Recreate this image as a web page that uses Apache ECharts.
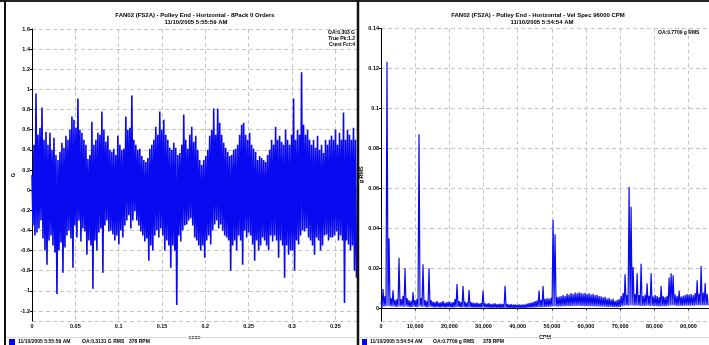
<!DOCTYPE html>
<html><head><meta charset="utf-8">
<script src="https://cdn.jsdelivr.net/npm/echarts@6/dist/echarts.min.js"></script>
<style>html,body{margin:0;padding:0;background:#fff}#c{width:709px;height:345px}</style>
</head><body><div id="c"></div>
<script>
// ---- Left panel: time waveform (per 2px column: upper and lower extreme, G) ----
const waveStep = 0.002304; // s per column
const waveHi = [
 0.15,0.45,0.96,0.55,0.62,0.82,0.5,0.58,0.45,0.57,
 0.4,0.52,0.35,0.3,0.38,0.47,0.42,0.54,0.5,0.6,
 0.73,0.7,0.62,0.91,0.6,0.57,0.5,0.45,0.31,0.35,
 0.68,0.45,0.5,0.57,0.55,0.78,0.6,0.48,0.54,0.4,
 0.38,0.41,0.35,0.54,0.45,0.4,0.41,0.73,0.6,0.62,
 0.94,0.5,0.45,0.4,0.41,0.34,0.3,0.28,0.32,0.41,
 0.45,0.5,0.63,0.55,0.78,0.6,0.7,0.55,0.5,0.42,
 0.4,0.47,0.42,0.35,0.37,0.45,0.75,0.5,0.41,0.55,
 0.63,0.48,0.54,0.4,0.3,0.25,0.3,0.34,0.4,0.54,
 0.6,0.81,0.55,0.81,0.67,0.55,0.47,0.42,0.38,0.34,
 0.35,0.4,0.41,0.45,0.55,0.65,0.67,0.55,0.5,0.57,
 0.45,0.41,0.38,0.3,0.34,0.32,0.3,0.28,0.35,0.4,
 0.5,0.45,0.63,0.5,0.54,0.48,0.45,0.6,0.5,0.45,
 0.55,0.91,0.5,0.6,0.55,1.17,0.65,0.55,0.6,0.5,
 0.45,0.5,0.42,0.54,0.4,0.45,0.37,0.5,0.45,0.5,
 0.54,0.5,0.6,0.45,0.57,0.5,0.77,0.5,0.6,0.55,0.5,0.62,0.5
];
const waveLo = [
 -0.35,-0.45,-0.42,-0.38,-0.3,-0.48,-0.6,-0.74,-0.5,-0.45,
 -0.55,-0.62,-1.03,-0.6,-0.52,-0.82,-0.57,-0.45,-0.4,-0.48,
 -0.77,-0.35,-0.47,-0.3,-0.51,-0.38,-0.41,-0.64,-0.5,-0.55,
 -0.98,-0.5,-0.6,-0.42,-0.38,-0.82,-0.35,-0.3,-0.41,-0.4,
 -0.44,-0.5,-0.45,-0.54,-0.4,-0.47,-0.35,-0.3,-0.25,-0.38,
 -0.3,-0.21,-0.3,-0.35,-0.41,-0.45,-0.51,-0.48,-0.7,-0.55,
 -0.6,-0.45,-0.4,-0.47,-0.38,-0.45,-0.6,-0.5,-0.55,-0.77,
 -0.55,-0.6,-1.14,-0.45,-0.51,-0.4,-0.35,-0.34,-0.3,-0.28,
 -0.35,-0.47,-0.5,-0.55,-0.6,-0.55,-0.67,-0.5,-0.45,-0.54,
 -0.4,-0.34,-0.3,-0.38,-0.34,-0.4,-0.45,-0.47,-0.5,-0.8,
 -0.55,-0.5,-0.6,-0.45,-0.5,-0.74,-0.4,-0.47,-0.42,-0.45,
 -0.54,-0.7,-0.5,-0.6,-0.55,-0.47,-0.5,-0.55,-0.6,-0.45,
 -0.51,-0.45,-0.5,-0.67,-0.5,-0.55,-0.87,-0.55,-0.64,-0.6,
 -0.6,-0.8,-0.5,-0.54,-0.45,-0.4,-0.41,-0.38,-0.47,-0.5,
 -0.55,-0.64,-0.47,-0.5,-0.6,-0.55,-0.45,-0.44,-0.5,-0.47,
 -0.47,-0.45,-0.41,-0.5,-0.45,-0.5,-1.12,-0.5,-0.54,-0.6,-0.55,-0.8,-0.87
];
// ---- Right panel: velocity spectrum (per 2px column: peak and floor, g RMS) ----
const specStep = 585.6; // CPM per column
const specHi = [
 0.003,0.0096,0.006,0.1234,0.035,0.005,0.0089,0.004,0.0045,0.0252,
 0.0045,0.006,0.020,0.005,0.004,0.0035,0.0079,0.004,0.0045,0.0871,
 0.005,0.022,0.004,0.0035,0.020,0.004,0.0032,0.003,0.0035,0.0028,
 0.003,0.0035,0.0028,0.003,0.0033,0.0029,0.003,0.0045,0.012,0.0035,
 0.003,0.011,0.0032,0.0028,0.009,0.003,0.0027,0.0025,0.0028,0.0024,
 0.0025,0.0088,0.0024,0.0022,0.0025,0.002,0.0022,0.0024,0.002,0.0021,
 0.0022,0.002,0.0112,0.0021,0.0018,0.002,0.0017,0.0019,0.0016,0.0018,
 0.0017,0.0019,0.0018,0.0022,0.0025,0.0028,0.003,0.0035,0.0038,0.0088,
 0.004,0.011,0.0045,0.005,0.0048,0.0052,0.0442,0.037,0.0055,0.0058,
 0.006,0.0066,0.0061,0.0072,0.0068,0.0075,0.007,0.0078,0.0074,0.0079,
 0.0076,0.0073,0.0077,0.0071,0.0074,0.0068,0.0072,0.0065,0.0067,0.0061,
 0.0059,0.0054,0.0056,0.0048,0.005,0.0043,0.0046,0.0037,0.004,0.0045,
 0.006,0.0075,0.017,0.0065,0.0607,0.0508,0.0206,0.007,0.0175,0.0065,
 0.0222,0.006,0.0068,0.0125,0.0062,0.0175,0.0058,0.0065,0.006,0.0055,
 0.011,0.006,0.0055,0.0062,0.0153,0.0175,0.0165,0.0068,0.006,0.0088,
 0.0058,0.0062,0.0065,0.0071,0.0068,0.007,0.0066,0.0075,0.014,0.0072,
 0.0211,0.0078,0.0125,0.007
];
const specLo = [
 0.0002,0.0008,0.001,0.0012,0.001,0.0008,0.001,0.0006,0.0007,0.0009,
 0.0008,0.0006,0.0009,0.0007,0.0005,0.0006,0.0008,0.0005,0.0006,0.001,
 0.0006,0.0008,0.0005,0.0004,0.0007,0.0005,0.0004,0.0004,0.0005,0.0003,
 0.0004,0.0004,0.0003,0.0005,0.0004,0.0003,0.0004,0.0005,0.0006,0.0004,
 0.0003,0.0005,0.0004,0.0003,0.0004,0.0003,0.0003,0.0002,0.0003,0.0002,
 0.0002,0.0003,0.0002,0.0002,0.0001,0.0002,0.0001,0.0002,0.0001,0.0001,
 0.0001,0.0001,0.0002,0.0001,0.0,0.0001,0.0,0.0001,0.0,0.0001,
 0.0,0.0001,0.0,0.0002,0.0002,0.0003,0.0004,0.0004,0.0005,0.0005,
 0.0005,0.0006,0.0006,0.0007,0.0007,0.0008,0.0009,0.0009,0.0008,0.0009,
 0.0009,0.001,0.001,0.0011,0.001,0.0011,0.0012,0.0011,0.0012,0.0011,
 0.0011,0.001,0.0011,0.001,0.0009,0.001,0.0009,0.0008,0.0009,0.0008,
 0.0007,0.0008,0.0007,0.0006,0.0007,0.0006,0.0005,0.0006,0.0005,0.0006,
 0.001,0.0012,0.0013,0.0012,0.0015,0.0014,0.0013,0.0012,0.0013,0.0011,
 0.0012,0.0011,0.0012,0.0013,0.0011,0.0012,0.001,0.0011,0.001,0.0009,
 0.001,0.0011,0.001,0.0012,0.0013,0.0014,0.0013,0.0012,0.0011,0.0012,
 0.0011,0.0012,0.0012,0.0013,0.0012,0.0013,0.0012,0.0014,0.0015,0.0013,
 0.0014,0.0013,0.0015,0.0014
];
// ---- Texts ----
const leftTitle = ['FAN02 (FS2A) - Pulley End - Horizontal - 8Pack 0 Orders', '11/10/2005 5:55:59 AM'];
const rightTitle = ['FAN02 (FS2A) - Pulley End - Horizontal - Vel Spec 96000 CPM', '11/10/2005 5:54:54 AM'];
const leftNotes = ['OA:0.303 G', 'True Pk:1.2', 'Crest Fct:4'];
const rightNotes = ['OA:0.7709 g RMS'];
const leftLegend = ['11/10/2005 5:55:59 AM', 'OA:0.3131 G RMS', '378 RPM'];
const rightLegend = ['11/10/2005 5:54:54 AM', 'OA:0.7709 g RMS', '378 RPM'];

const waveData = [];
for (let i = 0; i < waveHi.length; i++) {
  waveData.push([i * waveStep, waveHi[i]]);
  waveData.push([i * waveStep + waveStep / 2, waveLo[i]]);
}
const specData = [];
for (let j = 0; j < specHi.length; j++) {
  specData.push([j * specStep, specHi[j]]);
  specData.push([j * specStep + specStep / 2, specLo[j]]);
}

const FONT = 'Liberation Sans';
const lab = {color: '#000', fontSize: 5.5, fontFamily: FONT, fontWeight: 'bold'};
const grid = {lineStyle: {color: '#c4c4c4', type: [4, 3], width: 1}};
const axLine = {lineStyle: {color: '#000', width: 1}};
const tick = {show: true, length: 2, lineStyle: {color: '#000'}};

function txt(x, y, s, align, size) {
  return {type: 'text', x: x, y: y, style: {text: s, fill: '#000', font: 'bold ' + (size || 5.5) + 'px "' + FONT + '"', textAlign: align || 'left', textVerticalAlign: 'middle'}, z: 10};
}

const graphics = [];
graphics.push(txt(195, 15.5, leftTitle[0], 'center', 6));
graphics.push(txt(196, 22, leftTitle[1], 'center', 6));
graphics.push(txt(538, 15.5, rightTitle[0], 'center', 6));
graphics.push(txt(542, 22, rightTitle[1], 'center', 6));
leftNotes.forEach((s, k) => graphics.push(txt(355, 33 + k * 5.6, s, 'right', 5)));
rightNotes.forEach((s, k) => graphics.push(txt(658, 33 + k * 5.6, s, 'left', 5)));
// legend strips
graphics.push({type: 'rect', shape: {x: 9, y: 339, width: 6, height: 6}, style: {fill: '#0000ff'}, z: 10});
graphics.push({type: 'rect', shape: {x: 362, y: 339, width: 5, height: 6}, style: {fill: '#0000ff'}, z: 10});
[18, 82, 129].forEach((x, k) => graphics.push(txt(x, 342, leftLegend[k], 'left', 5)));
[370, 433, 483].forEach((x, k) => graphics.push(txt(x, 342, rightLegend[k], 'left', 5)));
// frames
graphics.push({type: 'line', shape: {x1: 0, y1: 1, x2: 709, y2: 1}, style: {stroke: '#222', lineWidth: 2}, z: 20});
graphics.push({type: 'line', shape: {x1: 5, y1: 0, x2: 5, y2: 345}, style: {stroke: '#111', lineWidth: 2}, z: 20});
graphics.push({type: 'line', shape: {x1: 358, y1: 0, x2: 358, y2: 345}, style: {stroke: '#111', lineWidth: 2.5}, z: 20});
graphics.push({type: 'line', shape: {x1: 6, y1: 337.5, x2: 357, y2: 337.5}, style: {stroke: '#d8d8d8', lineWidth: 1}, z: 20});
graphics.push({type: 'line', shape: {x1: 359, y1: 337.5, x2: 709, y2: 337.5}, style: {stroke: '#d8d8d8', lineWidth: 1}, z: 20});

const chart = echarts.init(document.getElementById('c'), null, {renderer: 'canvas'});
chart.setOption({
  animation: false,
  backgroundColor: '#fff',
  grid: [
    {left: 32, top: 29, width: 325, bottom: 19},
    {left: 381, top: 28.5, right: 0, bottom: 21}
  ],
  xAxis: [
    {type: 'value', gridIndex: 0, min: 0, max: 0.375, interval: 0.05,
     axisLine: axLine, axisTick: tick, splitLine: grid,
     axisLabel: Object.assign({margin: 2, showMaxLabel: false}, lab),
     name: 'secs', nameLocation: 'middle', nameGap: 9, nameTextStyle: lab},
    {type: 'value', gridIndex: 1, min: 0, max: 96000, interval: 10000,
     axisLine: axLine, axisTick: tick, splitLine: grid,
     axisLabel: Object.assign({margin: 2, showMaxLabel: false, formatter: v => v.toLocaleString('en-US')}, lab),
     name: 'CPM', nameLocation: 'middle', nameGap: 10, nameTextStyle: lab}
  ],
  yAxis: [
    {type: 'value', gridIndex: 0, min: -1.3, max: 1.6, splitNumber: 14,
     axisLine: Object.assign({onZero: false}, axLine), axisTick: tick, splitLine: grid,
     axisLabel: Object.assign({margin: 2, showMinLabel: false}, lab),
     name: 'G', nameLocation: 'middle', nameGap: 16, nameRotate: 90, nameTextStyle: lab},
    {type: 'value', gridIndex: 1, min: -0.0065, max: 0.14, splitNumber: 7,
     axisLine: Object.assign({onZero: false}, axLine), axisTick: tick, splitLine: grid,
     axisLabel: Object.assign({margin: 2, showMinLabel: false}, lab),
     name: 'g RMS', nameLocation: 'middle', nameGap: 13, nameRotate: 90, nameTextStyle: lab}
  ],
  series: [
    {type: 'line', xAxisIndex: 0, yAxisIndex: 0, data: waveData, showSymbol: false, symbol: 'none',
     lineStyle: {color: '#0a0af0', width: 1.6}, silent: true},
    {type: 'line', xAxisIndex: 1, yAxisIndex: 1, data: specData, showSymbol: false, symbol: 'none',
     lineStyle: {color: '#0a0af0', width: 1.2}, silent: true}
  ],
  graphic: graphics
});
</script>
</body></html>
